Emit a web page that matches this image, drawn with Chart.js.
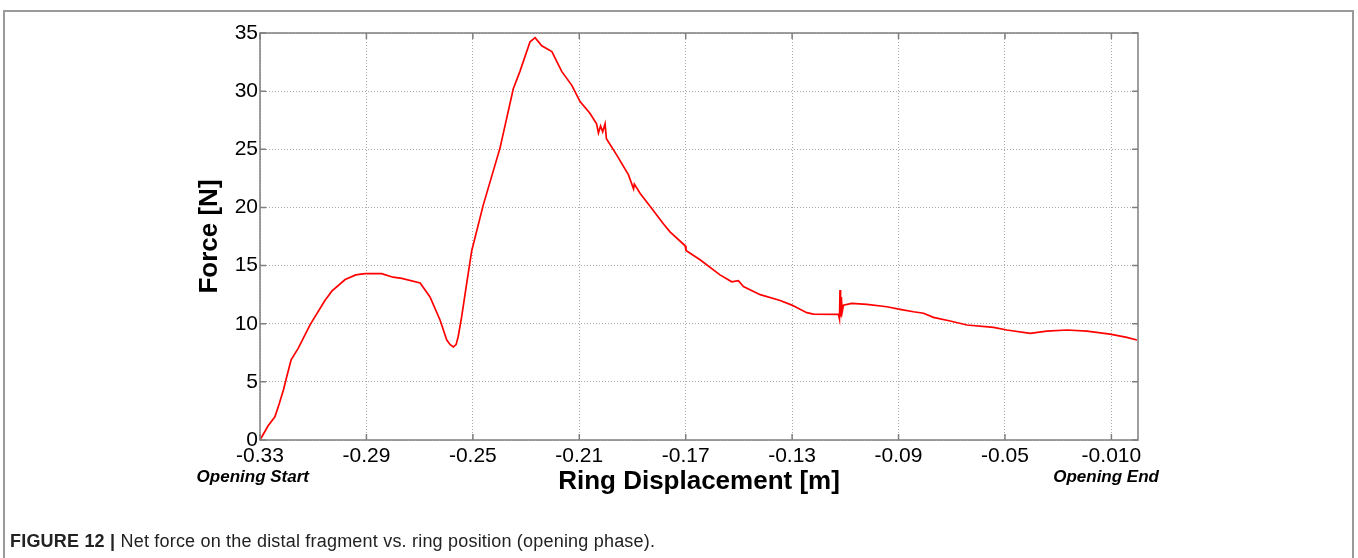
<!DOCTYPE html>
<html>
<head>
<meta charset="utf-8">
<script src="https://cdn.jsdelivr.net/npm/chart.js@4/dist/chart.umd.min.js"></script>
<style>
  html, body { margin: 0; padding: 0; background: #fff; }
  #frame {
    position: absolute; left: 3px; top: 10px; width: 1351px; height: 600px;
    border: 2px solid #9a9a9a; box-sizing: border-box;
  }
  #wrap { position: absolute; left: 0; top: 0; width: 1358px; height: 558px; }
  #caption {
    position: absolute; left: 10px; top: 531px;
    font-family: "Liberation Sans", Arial, sans-serif; font-size: 18px; color: #222;
    white-space: nowrap; letter-spacing: 0.2px;
  }
  #caption b { font-weight: bold; }
</style>
</head>
<body>
<div id="frame"></div>
<div id="wrap"><canvas id="forceChart" width="1358" height="558"></canvas></div>
<div id="caption"><b>FIGURE 12 |</b> Net force on the distal fragment vs. ring position (opening phase).</div>
<script>
// ring position [m] and net force [N]
const ringDisplacement = [
  -0.3300, -0.3285, -0.3270, -0.3244, -0.3228, -0.3212, -0.3200, -0.3183, -0.3156, -0.3112,
  -0.3056, -0.3030, -0.2980, -0.2940, -0.2905, -0.2843, -0.2800, -0.2767, -0.2698, -0.2661,
  -0.2623, -0.2598, -0.2585, -0.2573, -0.2563, -0.2555, -0.2542, -0.2523, -0.2504, -0.2461,
  -0.2398, -0.2348, -0.2323, -0.2285, -0.2266, -0.2241, -0.2203, -0.2166, -0.2128, -0.2097,
  -0.2060, -0.2035, -0.2028, -0.2020, -0.2012, -0.2003, -0.1998, -0.1959, -0.1915, -0.1896,
  -0.1893, -0.1871, -0.1834, -0.1784, -0.1759, -0.1702, -0.1699, -0.1646, -0.1571, -0.1527,
  -0.1502, -0.1483, -0.1420, -0.1345, -0.1301, -0.1245, -0.1220, -0.1126, -0.1122, -0.1120,
  -0.1118, -0.1115, -0.1112, -0.1107, -0.1076, -0.1019, -0.0944, -0.0894, -0.0844, -0.0806,
  -0.0769, -0.0706, -0.0643, -0.0543, -0.0493, -0.0405, -0.0343, -0.0267, -0.0192, -0.0105,
  -0.0042, -0.0004,
]
const netForce = [
  0.0, 0.6, 1.2, 2.0, 3.1, 4.3, 5.4, 6.9, 7.9, 9.9,
  12.0, 12.8, 13.8, 14.2, 14.3, 14.3, 14.0, 13.9, 13.5, 12.3,
  10.3, 8.6, 8.2, 8.0, 8.2, 8.9, 10.6, 13.5, 16.3, 20.2,
  25.1, 30.2, 31.7, 34.25, 34.6, 33.9, 33.4, 31.7, 30.5, 29.1,
  28.1, 27.2, 26.4, 27.0, 26.5, 27.2, 25.9, 24.5, 22.8, 21.6,
  22.0, 21.2, 20.1, 18.6, 17.9, 16.7, 16.3, 15.5, 14.2, 13.6,
  13.7, 13.2, 12.5, 12.0, 11.6, 10.95, 10.83, 10.8, 10.4, 12.9,
  10.6, 12.3, 11.0, 11.6, 11.75, 11.67, 11.46, 11.24, 11.03, 10.9,
  10.55, 10.23, 9.89, 9.69, 9.46, 9.17, 9.37, 9.46, 9.37, 9.11,
  8.83, 8.6,
]
const xTickValues = [-0.33, -0.29, -0.25, -0.21, -0.17, -0.13, -0.09, -0.05, -0.01]
const xTickLabels = ["-0.33", "-0.29", "-0.25", "-0.21", "-0.17", "-0.13", "-0.09", "-0.05", "-0.010"]
const yTickValues = [0, 5, 10, 15, 20, 25, 30, 35]

const FONT = "'Liberation Sans', Arial, Helvetica, sans-serif"
const AXIS_GREY = "#7f7f7f"

// box round the plot area with small inward ticks, plus the two end notes
const boxPlugin = {
  id: "boxPlugin",
  afterDraw(chart) {
    const { ctx, chartArea: a, scales } = chart
    ctx.save()
    ctx.strokeStyle = AXIS_GREY
    ctx.lineWidth = 1.5
    ctx.strokeRect(a.left, a.top, a.right - a.left, a.bottom - a.top)
    ctx.beginPath()
    xTickValues.forEach((v) => {
      const px = scales.x.getPixelForValue(v)
      ctx.moveTo(px, a.bottom); ctx.lineTo(px, a.bottom - 6)
      ctx.moveTo(px, a.top); ctx.lineTo(px, a.top + 6)
    })
    yTickValues.forEach((v) => {
      const py = scales.y.getPixelForValue(v)
      ctx.moveTo(a.left, py); ctx.lineTo(a.left + 6, py)
      ctx.moveTo(a.right, py); ctx.lineTo(a.right - 6, py)
    })
    ctx.stroke()
    ctx.fillStyle = "#000"
    ctx.font = "italic bold 17px " + FONT
    ctx.textAlign = "center"
    ctx.textBaseline = "middle"
    ctx.fillText("Opening Start", scales.x.getPixelForValue(-0.3327), 477)
    ctx.fillText("Opening End", scales.x.getPixelForValue(-0.0120), 477)
    ctx.restore()
  },
}

const data = {
  datasets: [
    {
      label: "Net force",
      data: ringDisplacement.map((x, i) => ({ x: x, y: netForce[i] })),
      borderColor: "#ff0000",
      borderWidth: 1.7,
      pointRadius: 0,
      tension: 0,
      fill: false,
    },
  ],
}

const config = {
  type: "line",
  data: data,
  options: {
    responsive: false,
    animation: false,
    layout: { padding: { left: 160, top: 33, right: 220, bottom: 58 } },
    plugins: {
      legend: { display: false },
      tooltip: { enabled: false },
    },
    scales: {
      x: {
        type: "linear",
        min: -0.33,
        max: 0,
        afterFit: (scale) => { scale.height = 60 },
        afterBuildTicks: (scale) => { scale.ticks = xTickValues.map((v) => ({ value: v })) },
        ticks: {
          autoSkip: false,
          maxRotation: 0,
          padding: 4,
          color: "#000",
          font: { family: FONT, size: 21 },
          callback: (v) => {
            const i = xTickValues.findIndex((t) => Math.abs(t - v) < 1e-9)
            return i >= 0 ? xTickLabels[i] : ""
          },
        },
        grid: { color: "#a8a8a8", lineWidth: 1, drawTicks: false },
        border: { display: false, dash: [1, 2] },
        title: {
          display: true,
          text: "Ring Displacement [m]",
          color: "#000",
          font: { family: FONT, size: 26, weight: "bold", lineHeight: 1 },
          padding: { top: 0, bottom: 5 },
        },
      },
      y: {
        min: 0,
        max: 35,
        afterFit: (scale) => { scale.width = 100 },
        afterBuildTicks: (scale) => { scale.ticks = yTickValues.map((v) => ({ value: v })) },
        ticks: {
          padding: 2,
          color: "#000",
          font: { family: FONT, size: 21 },
        },
        grid: { color: "#a8a8a8", lineWidth: 1, drawTicks: false },
        border: { display: false, dash: [1, 2] },
        title: {
          display: true,
          text: "Force [N]",
          color: "#000",
          font: { family: FONT, size: 26, weight: "bold", lineHeight: 1 },
          padding: { top: 37, bottom: 0 },
        },
      },
    },
  },
  plugins: [boxPlugin],
}

new Chart(document.getElementById("forceChart"), config)
</script>
</body>
</html>
